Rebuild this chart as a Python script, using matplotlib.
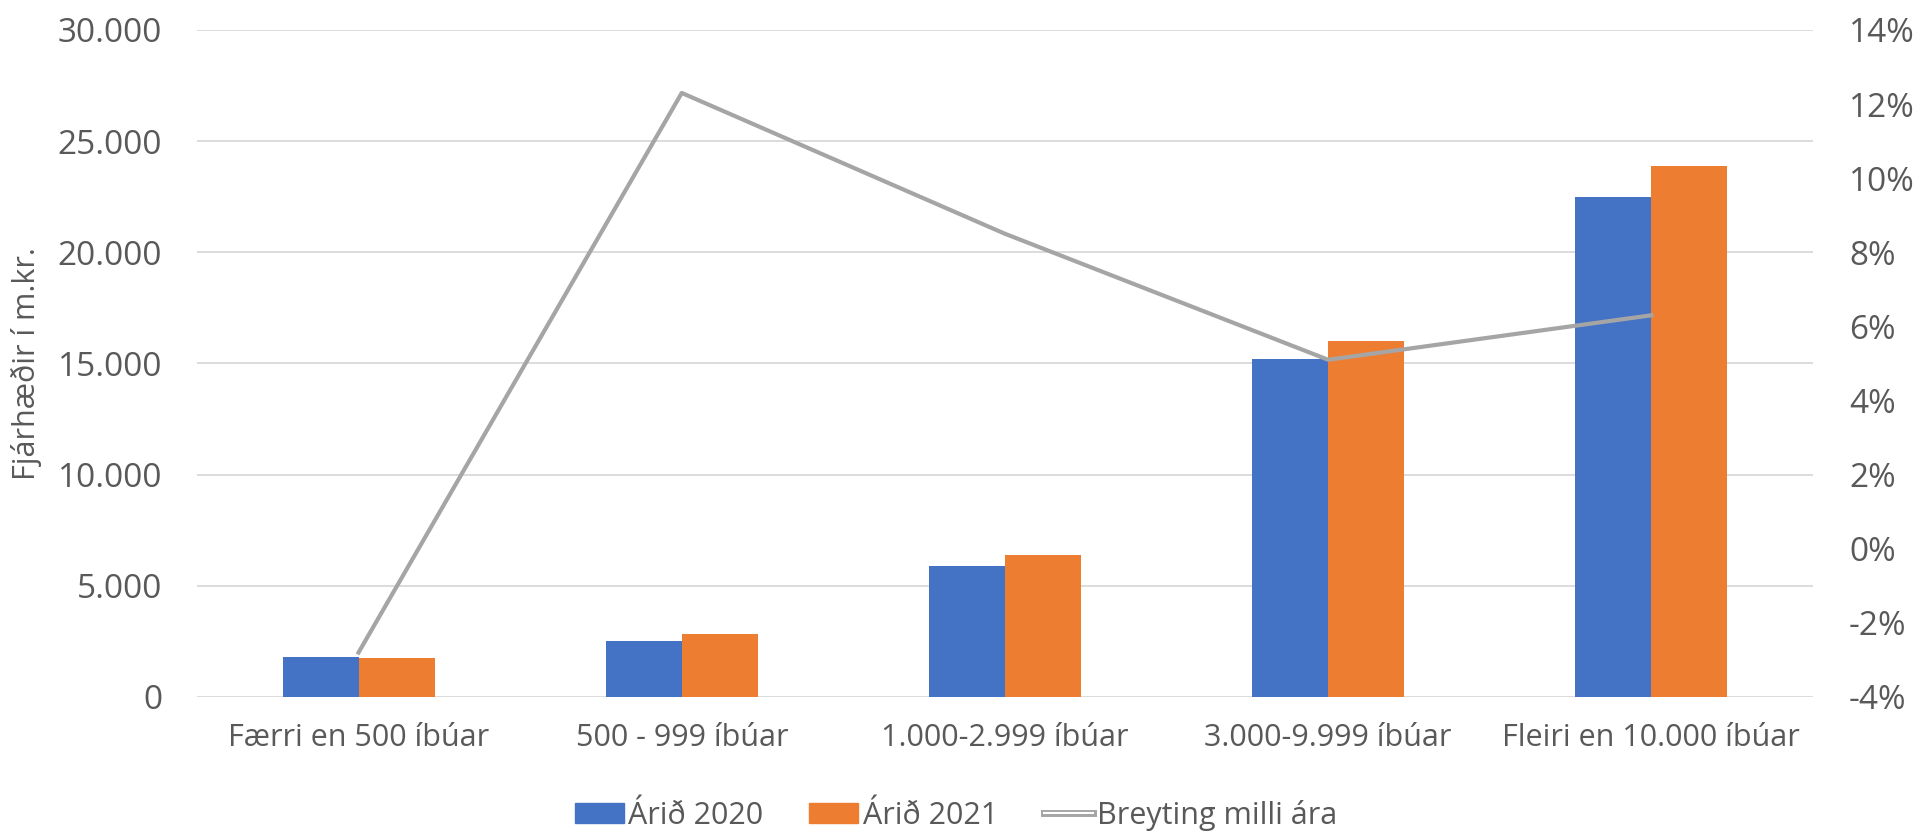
import matplotlib.pyplot as plt
import matplotlib.patheffects as pe
from matplotlib.lines import Line2D
from matplotlib.patches import Patch
from matplotlib.ticker import FuncFormatter
import numpy as np

# data
categories = ['Færri en 500 íbúar', '500 - 999 íbúar', '1.000-2.999 íbúar',
              '3.000-9.999 íbúar', 'Fleiri en 10.000 íbúar']
arid_2020 = [1800, 2500, 5900, 15200, 22500]
arid_2021 = [1750, 2850, 6400, 16000, 23900]
breyting = [-2.8, 12.3, 8.5, 5.1, 6.3]   # %

blue = '#4472C4'
orange = '#ED7D31'
grey = '#A5A5A5'
txt = '#595959'
plt.rcParams['font.family'] = ['Open Sans', 'DejaVu Sans']

fig = plt.figure(figsize=(19.16, 8.32), dpi=100)
ax = fig.add_axes([0.1028, 0.1623, 0.8434, 0.8017])
ax2 = ax.twinx()

x = np.arange(len(categories))
w = 0.235
ax.bar(x - w / 2, arid_2020, w, color=blue, zorder=2)
ax.bar(x + w / 2, arid_2021, w, color=orange, zorder=2)

ax.set_ylim(0, 30000)
ax.set_yticks(np.arange(0, 30001, 5000))
ax.yaxis.set_major_formatter(FuncFormatter(lambda v, p: f'{int(v):,}'.replace(',', '.')))
ax.grid(axis='y', color='#D9D9D9', linewidth=1.3, zorder=0)
ax.set_axisbelow(True)
ax.set_xlim(-0.5, len(categories) - 0.5)
ax.set_xticks(x)
ax.set_xticklabels(categories)
ax.tick_params(axis='y', length=0, pad=25, labelsize=24, labelcolor=txt)
ax.tick_params(axis='x', length=0, pad=19, labelsize=22, labelcolor=txt)
ax.set_ylabel('Fjárhæðir í m.kr.', fontsize=22, color=txt)
ax.yaxis.set_label_coords(-0.096, 0.5)

ax2.plot(x, breyting, color=grey, linewidth=3, zorder=3)
ax2.set_ylim(-4, 14)
ax2.set_yticks(np.arange(-4, 15, 2))
ax2.yaxis.set_major_formatter(FuncFormatter(lambda v, p: f'{int(round(v))}%'))
ax2.tick_params(axis='y', length=0, pad=26, labelsize=24, labelcolor=txt)

for a in (ax, ax2):
    for s in a.spines.values():
        s.set_visible(False)

line_handle = Line2D([], [], color='white', linewidth=1.5,
                     path_effects=[pe.Stroke(linewidth=5, foreground=grey), pe.Normal()])
handles = [Patch(color=blue), Patch(color=orange), line_handle]
labels = ['Árið 2020', 'Árið 2021', 'Breyting milli ára']
fig.legend(handles, labels, loc='center', bbox_to_anchor=(0.499, 0.02), ncol=3, frameon=False,
           fontsize=22, labelcolor=txt, handlelength=1.6, handleheight=0.65,
           handletextpad=0.15, columnspacing=1.5, borderpad=0)

fig.savefig('out.png', dpi=100)
